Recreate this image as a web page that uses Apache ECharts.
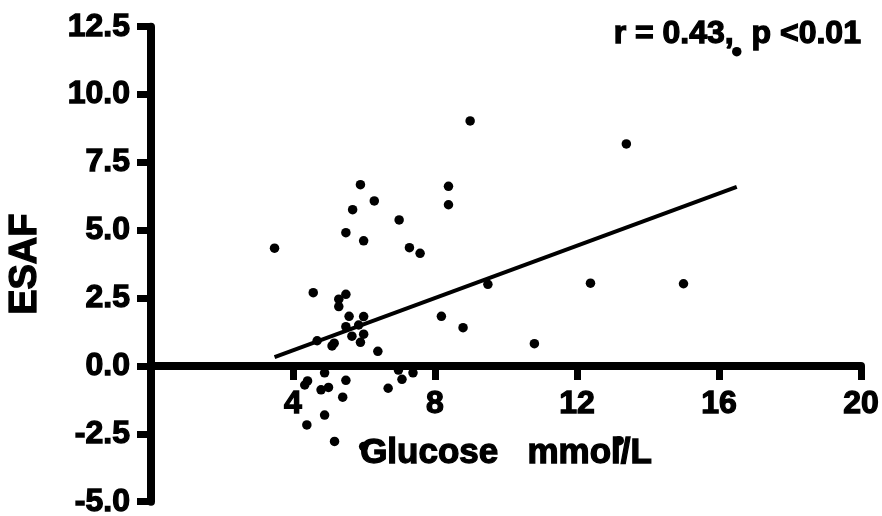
<!DOCTYPE html>
<html>
<head>
<meta charset="utf-8">
<script src="https://cdn.jsdelivr.net/npm/echarts@6/dist/echarts.min.js"></script>
<style>
html,body{margin:0;padding:0;background:#fff;}
#chart{width:882px;height:516px;}
</style>
</head>
<body>
<div id="chart"></div>
<script>
// Glucose (mmol/L) values of each subject
var glucose = [3.48,4.57,5.49,5.29,5.29,5.58,5.99,5.49,5.66,5.99,5.90,5.85,4.68,5.10,5.16,6.39,
  5.90,6.29,5.68,6.99,5.49,5.99,7.28,7.58,8.99,13.39,8.38,8.38,9.49,12.38,15.0,8.18,8.79,10.80,
  13.19,16.5,4.89,4.41,4.33,5.49,4.79,5.00,5.40,4.89,4.39,5.17,6.68,7.07,7.38,6.97,5.99];
// ESAF values of each subject
var esaf = [4.34,2.70,2.64,2.46,2.19,1.83,1.82,1.45,1.10,1.17,0.87,1.51,0.93,0.74,0.84,0.54,
  6.68,6.08,5.76,5.38,4.91,4.61,4.36,4.15,9.03,8.18,6.62,5.94,3.01,3.05,3.03,1.83,1.41,0.82,
  -2.75,11.58,-0.25,-0.55,-0.70,-0.53,-0.88,-0.79,-1.15,-1.81,-2.17,-2.78,-0.82,-0.49,-0.25,-0.15,-2.97];
// regression line end points
var fitX = [3.48, 16.5];
var fitY = [0.33, 6.60];
var xTicks = [4, 8, 12, 16, 20];
var yTicks = [-5.0, -2.5, 0.0, 2.5, 5.0, 7.5, 10.0, 12.5];
var xTitle = 'Glucose   mmol/L';
var yTitle = 'ESAF';
var statText = 'r = 0.43,  p <0.01';

var FONT = 'Liberation Sans';
var chart = echarts.init(document.getElementById('chart'));
var pts = glucose.map(function (g, i) { return [g, esaf[i]]; });
var fit = fitX.map(function (x, i) { return [x, fitY[i]]; });
var heavy = { textBorderColor: '#000', textBorderWidth: 1.3 };
var AX = 8;

chart.setOption({
  animation: false,
  backgroundColor: '#fff',
  grid: [
    { left: 151, right: 21, top: 26.7, bottom: 14.3, containLabel: false, outerBoundsMode: 'none' },
    // same plot area, ending at the zero line so the x axis sits on y = 0
    { left: 151, right: 21, top: 26.7, bottom: 150, containLabel: false, outerBoundsMode: 'none' }
  ],
  xAxis: [{
    gridIndex: 0, type: 'value', min: 0, max: 20, interval: 4, show: false
  }, {
    gridIndex: 1, type: 'value', min: 0, max: 20, interval: 4, position: 'bottom',
    axisLine: { show: true, onZero: false, lineStyle: { color: '#000', width: AX } },
    axisTick: { show: true, inside: false, length: 14, lineStyle: { color: '#000', width: AX - 1 } },
    axisLabel: Object.assign({
      margin: 22, color: '#000', fontFamily: FONT, fontWeight: 'bold', fontSize: 32,
      formatter: function (v) { return xTicks.indexOf(v) >= 0 ? String(v) : ''; }
    }, heavy),
    splitLine: { show: false },
    name: xTitle, nameLocation: 'middle', nameGap: 70,
    nameTextStyle: Object.assign({ color: '#000', fontFamily: FONT, fontWeight: 'bold', fontSize: 35 }, heavy)
  }],
  yAxis: [{
    gridIndex: 0, type: 'value', min: -5, max: 12.5, interval: 2.5,
    axisLine: { show: true, onZero: false, lineStyle: { color: '#000', width: AX } },
    axisTick: { show: true, inside: false, length: 14, lineStyle: { color: '#000', width: AX - 1 } },
    axisLabel: Object.assign({
      margin: 21, color: '#000', fontFamily: FONT, fontWeight: 'bold', fontSize: 32,
      formatter: function (v) { return yTicks.indexOf(v) >= 0 ? v.toFixed(1) : ''; }
    }, heavy),
    splitLine: { show: false },
    name: yTitle, nameLocation: 'middle', nameGap: 106,
    nameTextStyle: Object.assign({ color: '#000', fontFamily: FONT, fontWeight: 'bold', fontSize: 38 }, heavy)
  }, {
    gridIndex: 1, type: 'value', min: 0, max: 12.5, show: false
  }],
  graphic: [{
    type: 'text', left: 613, top: 18,
    style: { text: statText, fill: '#000', stroke: '#000', lineWidth: 1.3, font: 'bold 32px "' + FONT + '"' }
  }],
  series: [{
    type: 'scatter', xAxisIndex: 0, yAxisIndex: 0, data: pts, symbol: 'circle', symbolSize: 9.5,
    itemStyle: { color: '#000', opacity: 1 }, z: 3
  }, {
    type: 'line', xAxisIndex: 0, yAxisIndex: 0, data: fit, showSymbol: false, symbol: 'none',
    lineStyle: { color: '#000', width: 4 }, z: 4
  }]
});
</script>
</body>
</html>
